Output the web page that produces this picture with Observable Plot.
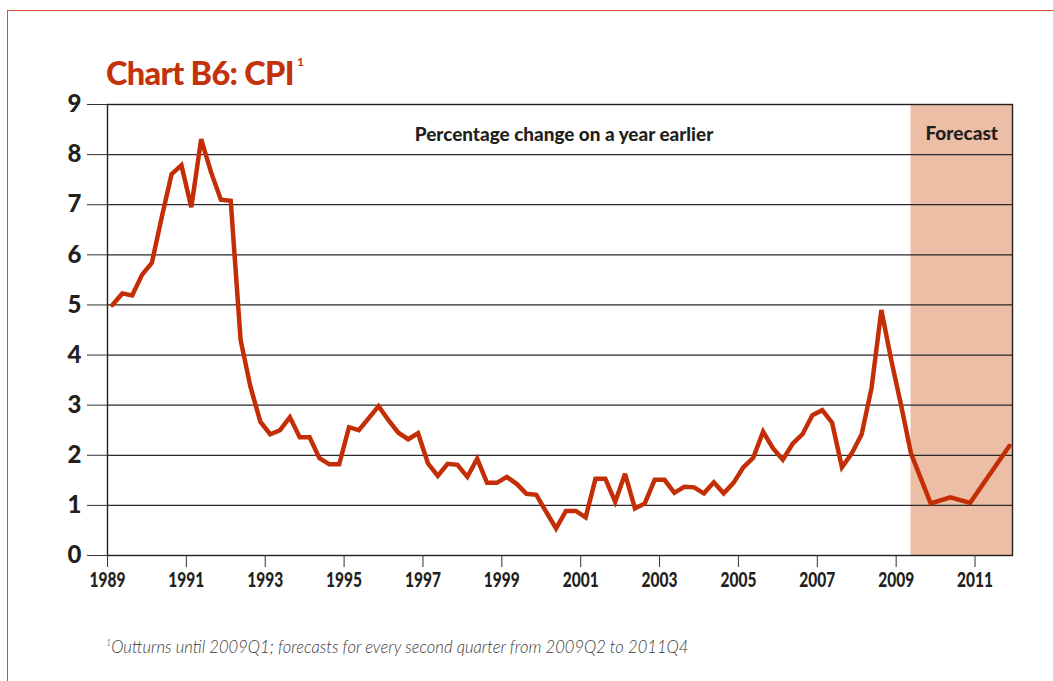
<!DOCTYPE html>
<html>
<head>
<meta charset="utf-8">
<script src="https://cdn.jsdelivr.net/npm/d3@7"></script>
<script src="https://cdn.jsdelivr.net/npm/@observablehq/plot@0.6"></script>
<style>
  html, body { margin: 0; padding: 0; background: #fff; width: 1053px; height: 681px; overflow: hidden; }
  #border { position: absolute; left: 7px; top: 10px; width: 1200px; height: 800px;
            border-left: 1.5px solid #D6502C; border-top: 1.5px solid #D6502C; }
  #chart { position: absolute; left: 0; top: 0; }
  #texts { position: absolute; left: 0; top: 0; }
</style>
</head>
<body>
<div id="border"></div>
<div id="chart"></div>
<svg id="texts" width="1053" height="681">
  <text x="106" y="85" font-family="Lato" font-weight="900" font-size="32.5" letter-spacing="-0.7" fill="#C4320C">Chart B6: CPI<tspan font-size="12" font-weight="bold" letter-spacing="0" dx="3" dy="-19">1</tspan></text>
  <text x="106" y="653" font-family="Lato" font-style="italic" font-weight="300" font-size="16.6" fill="#3a3a3a"><tspan font-size="9" dy="-7">1</tspan><tspan dy="7">Outturns until 2009Q1; forecasts for every second quarter from 2009Q2 to 2011Q4</tspan></text>
</svg>
<script>
// ---- Data ----
const outturnQuarters = [
  "1989Q1","1989Q2","1989Q3","1989Q4",
  "1990Q1","1990Q2","1990Q3","1990Q4",
  "1991Q1","1991Q2","1991Q3","1991Q4",
  "1992Q1","1992Q2","1992Q3","1992Q4",
  "1993Q1","1993Q2","1993Q3","1993Q4",
  "1994Q1","1994Q2","1994Q3","1994Q4",
  "1995Q1","1995Q2","1995Q3","1995Q4",
  "1996Q1","1996Q2","1996Q3","1996Q4",
  "1997Q1","1997Q2","1997Q3","1997Q4",
  "1998Q1","1998Q2","1998Q3","1998Q4",
  "1999Q1","1999Q2","1999Q3","1999Q4",
  "2000Q1","2000Q2","2000Q3","2000Q4",
  "2001Q1","2001Q2","2001Q3","2001Q4",
  "2002Q1","2002Q2","2002Q3","2002Q4",
  "2003Q1","2003Q2","2003Q3","2003Q4",
  "2004Q1","2004Q2","2004Q3","2004Q4",
  "2005Q1","2005Q2","2005Q3","2005Q4",
  "2006Q1","2006Q2","2006Q3","2006Q4",
  "2007Q1","2007Q2","2007Q3","2007Q4",
  "2008Q1","2008Q2","2008Q3","2008Q4",
  "2009Q1"
];
const outturnValues = [
  5.00, 5.23, 5.19, 5.60,
  5.84, 6.75, 7.61, 7.79,
  6.95, 8.31, 7.65, 7.10,
  7.08, 4.30, 3.37, 2.67,
  2.42, 2.50, 2.76, 2.36,
  2.36, 1.94, 1.82, 1.82,
  2.56, 2.50, 2.74, 2.98,
  2.70, 2.45, 2.32, 2.44,
  1.84, 1.59, 1.83, 1.81,
  1.57, 1.93, 1.45, 1.45,
  1.57, 1.43, 1.23, 1.21,
  0.87, 0.54, 0.89, 0.89,
  0.76, 1.53, 1.53, 1.07,
  1.63, 0.94, 1.04, 1.51,
  1.51, 1.25, 1.37, 1.36,
  1.24, 1.46, 1.24, 1.45,
  1.76, 1.95, 2.47, 2.14,
  1.91, 2.23, 2.42, 2.80,
  2.90, 2.65, 1.76, 2.04,
  2.42, 3.34, 4.90, 3.90,
  3.00
];
const forecastQuarters = ["2009Q2","2009Q4","2010Q2","2010Q4","2011Q2","2011Q4"];
const forecastValues = [2.04, 1.04, 1.16, 1.05, 1.62, 2.19];

const xTickYears = [1989,1991,1993,1995,1997,1999,2001,2003,2005,2007,2009,2011];
const yTickValues = [0,1,2,3,4,5,6,7,8,9];
const subtitle = "Percentage change on a year earlier";
const forecastLabel = "Forecast";
const xDomainEnd = 2011.95;

// ---- Build tables ----
const toTime = q => +q.slice(0,4) + (+q.slice(5) - 0.5) / 4;
const series = outturnQuarters.map((q,i) => ({t: toTime(q), v: outturnValues[i]}))
  .concat(forecastQuarters.map((q,i) => ({t: toTime(q), v: forecastValues[i]})));
const band = [{x1: toTime(forecastQuarters[0]), x2: xDomainEnd}];
const yMin = d3.min(yTickValues), yMax = d3.max(yTickValues);

const chart = Plot.plot({
  width: 1053,
  height: 600,
  marginLeft: 107,
  marginRight: 41,
  marginTop: 104,
  marginBottom: 45,
  style: {background: "transparent", color: "#231f20", overflow: "visible"},
  x: {domain: [xTickYears[0], xDomainEnd], axis: null},
  y: {domain: [yMin, yMax], axis: null},
  marks: [
    Plot.rect(band, {x1: "x1", x2: "x2", y1: yMin, y2: yMax, fill: "#ECBEA5"}),
    Plot.gridY(yTickValues, {stroke: "#2a2a2a", strokeOpacity: 1, strokeWidth: 1.2}),
    Plot.frame({stroke: "#231f20", strokeWidth: 1.4}),
    Plot.axisX(xTickYears, {
      tickSize: 12, tickPadding: 5, tickFormat: d => String(d),
      fontSize: 20, fontWeight: "900", fontFamily: "Lato, sans-serif", stroke: "#333", fill: "#231f20", label: null,
      ariaLabel: "x-axis"
    }),
    Plot.axisY(yTickValues, {
      tickSize: 20, tickPadding: 6, tickFormat: d => String(d),
      fontSize: 24, fontWeight: "900", fontFamily: "Lato, sans-serif", stroke: "#333", fill: "#231f20", label: null
    }),
    Plot.line(series, {x: "t", y: "v", stroke: "#C42E06", strokeWidth: 4.5,
      strokeLinejoin: "miter", strokeMiterlimit: 3}),
    Plot.text([subtitle], {frameAnchor: "top", dx: 4, dy: 36, lineAnchor: "bottom",
      fontSize: 18.9, fontWeight: "900", fontFamily: "Lato, sans-serif", fill: "#231f20"}),
    Plot.text(band, {x: d => (d.x1 + d.x2) / 2, frameAnchor: "top", dy: 35, lineAnchor: "bottom",
      text: () => forecastLabel, fontSize: 19, fontWeight: "900", fontFamily: "Lato, sans-serif", fill: "#231f20"})
  ]
});
document.getElementById("chart").appendChild(chart);
// Narrow the year labels to match the condensed face of the reference
d3.select(chart).selectAll('g[aria-label="x-axis tick label"] text')
  .attr("textLength", 36).attr("lengthAdjust", "spacingAndGlyphs");
</script>
</body>
</html>
